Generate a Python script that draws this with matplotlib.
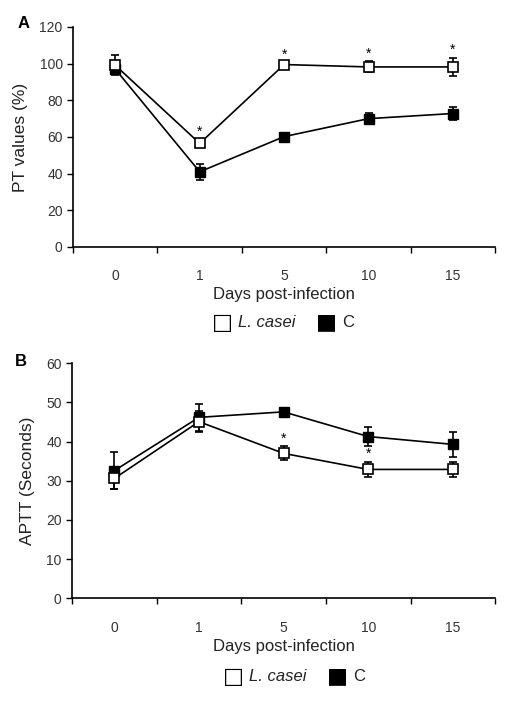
import numpy as np
import matplotlib
matplotlib.use("Agg")
import matplotlib.pyplot as plt

plt.rcParams['font.family'] = ['Liberation Sans', 'DejaVu Sans']

days = ["0", "1", "5", "10", "15"]

# Panel A - PT values (%)
pt_casei = [99.1, 56.5, 99.5, 98.2, 98.2]
pt_casei_err = [5.5, 2.0, 1.0, 3.0, 5.0]
pt_c = [97.0, 41.0, 60.2, 70.0, 72.8]
pt_c_err = [2.0, 4.5, 1.0, 3.0, 3.5]
pt_star = [False, True, True, True, True]

# Panel B - APTT (Seconds)
aptt_casei = [30.6, 45.1, 37.0, 32.9, 32.9]
aptt_casei_err = [2.7, 2.6, 1.8, 2.0, 2.0]
aptt_c = [32.6, 46.2, 47.6, 41.3, 39.3]
aptt_c_err = [4.8, 3.5, 1.0, 2.4, 3.2]
aptt_star = [False, False, True, True, False]

fig = plt.figure(figsize=(5.11, 7.23), dpi=100)
axA = fig.add_axes([0.143, 0.6584, 0.826, 0.3043])
axB = fig.add_axes([0.141, 0.1725, 0.828, 0.325])

x = np.arange(len(days))


def draw_panel(ax, casei, casei_err, c, c_err, stars, ymax, ystep, ylabel, star_off):
    ax.errorbar(x, c, yerr=c_err, color='black', lw=1.2, marker='s', ms=7,
                mfc='black', mec='black', capsize=3, capthick=1.2, elinewidth=1.2, zorder=3)
    ax.errorbar(x, casei, yerr=casei_err, color='black', lw=1.2, marker='s', ms=7,
                mfc='white', mec='black', mew=1.2, capsize=3, capthick=1.2,
                elinewidth=1.2, zorder=4)
    for i in range(len(x)):
        if stars[i]:
            ax.text(x[i], casei[i] + casei_err[i] + star_off, '*', ha='center',
                    va='bottom', fontsize=10)
    ax.set_xlim(-0.5, 4.5)
    ax.set_ylim(0, ymax)
    ax.set_yticks(np.arange(0, ymax + 1, ystep))
    ax.set_xticks(np.arange(-0.5, 5, 1.0))
    ax.set_xticklabels([])
    ax.set_xticks(x, minor=True)
    ax.set_xticklabels(days, minor=True)
    ax.tick_params(axis='x', which='major', length=4, width=1, direction='out')
    ax.tick_params(axis='x', which='minor', length=0, pad=16, labelsize=10, labelcolor='#333333')
    ax.tick_params(axis='y', length=4, width=1, direction='out', labelsize=10, labelcolor='#333333')
    for s in ['top', 'right']:
        ax.spines[s].set_visible(False)
    for s in ['left', 'bottom']:
        ax.spines[s].set_linewidth(1.2)
    ax.set_ylabel(ylabel, fontsize=12.5, color='#222222', labelpad=8)
    ax.set_xlabel('Days post-infection', fontsize=12, color='#222222', labelpad=3)


draw_panel(axA, pt_casei, pt_casei_err, pt_c, pt_c_err, pt_star, 120, 20, 'PT values (%)', 0.5)
draw_panel(axB, aptt_casei, aptt_casei_err, aptt_c, aptt_c_err, aptt_star, 60, 10, 'APTT (Seconds)', 0.2)

fig.text(18 / 511, 1 - 24 / 723, 'A', fontsize=12, fontweight='bold', ha='left', va='center')
fig.text(15 / 511, 1 - 362 / 723, 'B', fontsize=12, fontweight='bold', ha='left', va='center')


def legend_row(ypix, xoff):
    y = 1 - ypix / 723
    fig.text((222 + xoff) / 511, y, '\u25a1', fontsize=16, ha='center', va='center',
             family='DejaVu Sans')
    fig.text((238 + xoff) / 511, y, 'L. casei', fontsize=12, style='italic', ha='left', va='center', color='#222222')
    fig.text((326 + xoff) / 511, y, '\u25a0', fontsize=16, ha='center', va='center',
             family='DejaVu Sans')
    fig.text((342 + xoff) / 511, y, 'C', fontsize=12, ha='left', va='center', color='#222222')


legend_row(322.5, 0)
legend_row(676.5, 11)

fig.savefig('out.png', dpi=100)
